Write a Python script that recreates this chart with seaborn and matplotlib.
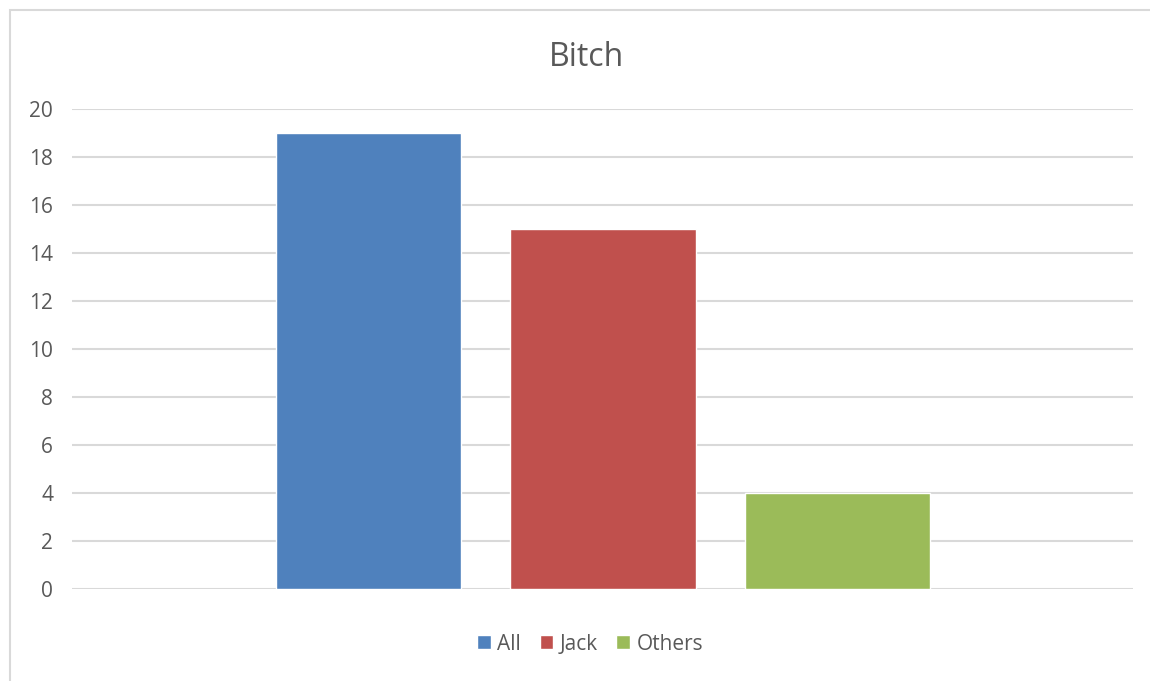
import matplotlib
matplotlib.use("Agg")
import matplotlib.pyplot as plt
import matplotlib.patches as mpatches
import seaborn as sns
import pandas as pd

# Series counts
series = ["All", "Jack", "Others"]
values = [19, 15, 4]
colors = ["#4F81BD", "#C0504D", "#9BBB59"]
yticks = [0, 2, 4, 6, 8, 10, 12, 14, 16, 18, 20]
title = "Bitch"

sns.set_theme(style="white")
plt.rcParams["font.family"] = ["Open Sans", "DejaVu Sans"]
text_color = "#595959"
grid_color = "#D9D9D9"

W, H = 1150, 681
fig = plt.figure(figsize=(W / 100, H / 100), dpi=100)
fig.patch.set_facecolor("white")

left, right, top, bottom = 72, 1133, 109, 589
ax = fig.add_axes([left / W, (H - bottom) / H, (right - left) / W, (bottom - top) / H])

df = pd.DataFrame({"series": series, "value": values})
sns.barplot(data=df, x="series", y="value", hue="series", order=series,
            hue_order=series, palette=colors, width=0.79, saturation=1,
            dodge=False, legend=True, ax=ax, zorder=3)

ax.set_xlim(-1.265, 3.26)
ax.set_ylim(0, 20)
ax.set_yticks(yticks)
ax.set_yticklabels([str(t) for t in yticks], color=text_color, fontsize=15)
ax.set_xticks([])
ax.set_xlabel("")
ax.set_ylabel("")
ax.tick_params(axis="y", length=0, pad=13.5)
for s in ax.spines.values():
    s.set_visible(False)
for t in yticks:
    ax.axhline(t, color=grid_color, lw=1.5, zorder=1)

fig.text(587 / W, (H - 66) / H, title, fontsize=23, color=text_color,
         ha="center", va="baseline")

handles, labels = ax.get_legend_handles_labels()
ax.get_legend().remove()
fig.legend(handles, labels, loc="center", bbox_to_anchor=(590 / W, (H - 644) / H),
           ncol=3, frameon=False, fontsize=15, handlelength=0.66, handleheight=0.66,
           handletextpad=0.3, columnspacing=0.9, labelcolor=text_color)

# Chart frame
frame = mpatches.Rectangle((10 / W, -0.1), 1.2, (H - 10) / H + 0.1,
                           transform=fig.transFigure, fill=False,
                           edgecolor=grid_color, lw=1.5)
fig.add_artist(frame)

fig.savefig("out.png", dpi=100)
